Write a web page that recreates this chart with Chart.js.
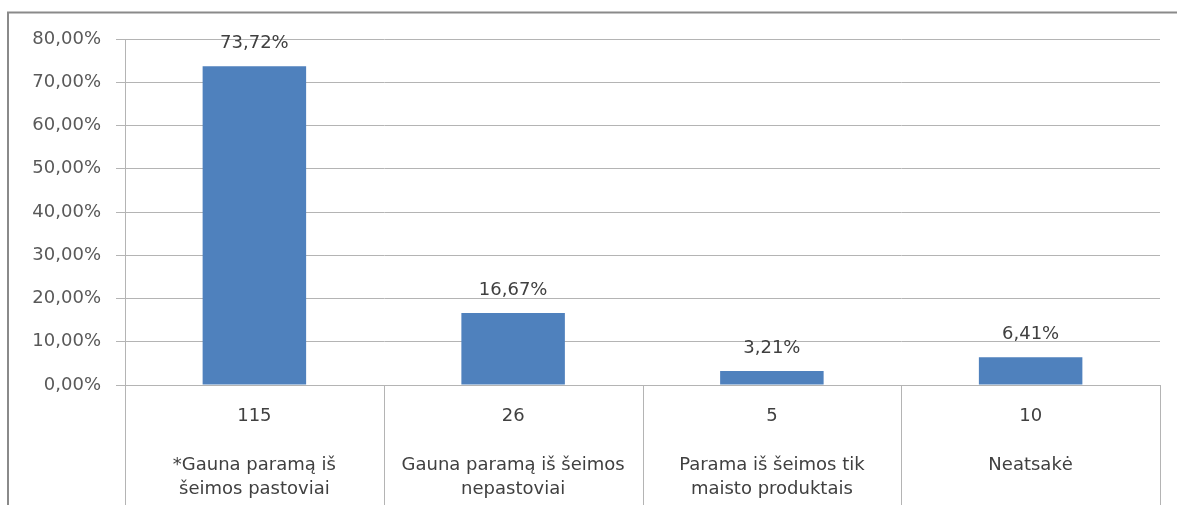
<!DOCTYPE html>
<html>
<head>
<meta charset="utf-8">
<script src="https://cdn.jsdelivr.net/npm/chart.js@4/dist/chart.umd.min.js"></script>
<style>
  html, body { margin: 0; padding: 0; background: #ffffff; }
  #wrap { width: 1177px; height: 505px; }
</style>
</head>
<body>
<div id="wrap"><canvas id="c" width="1177" height="505"></canvas></div>
<script>
// ---- data ----
const counts = ["115", "26", "5", "10"];
const categoryNames = [
  ["*Gauna paramą iš", "šeimos pastoviai"],
  ["Gauna paramą iš šeimos", "nepastoviai"],
  ["Parama iš šeimos tik", "maisto produktais"],
  ["Neatsakė", ""]
];
const percentValues = [73.72, 16.67, 3.21, 6.41];
const yTicks = [0, 10, 20, 30, 40, 50, 60, 70, 80];

const FONT = "'DejaVu Sans', sans-serif";
const fmt = v => v.toFixed(2).replace('.', ',') + '%';

const labels = counts.map((c, i) => [c, ""].concat(categoryNames[i]));

const decorPlugin = {
  id: 'decor',
  beforeDraw(chart) {
    const ctx = chart.ctx;
    ctx.save();
    ctx.fillStyle = '#ffffff';
    ctx.fillRect(0, 0, chart.width, chart.height);
    ctx.restore();
  },
  afterDraw(chart) {
    const ctx = chart.ctx;
    const xs = chart.scales.x;
    const area = chart.chartArea;
    const n = chart.data.labels.length;
    ctx.save();
    // category separators below the axis
    ctx.strokeStyle = '#b4b4b4';
    ctx.lineWidth = 1;
    for (let i = 0; i <= n; i++) {
      const x = Math.round(xs.left + i * (xs.right - xs.left) / n) + 0.5;
      ctx.beginPath();
      ctx.moveTo(x, area.bottom);
      ctx.lineTo(x, chart.height);
      ctx.stroke();
    }
    // outer frame (top and left)
    ctx.strokeStyle = '#8a8a8a';
    ctx.lineWidth = 2;
    ctx.beginPath();
    ctx.moveTo(chart.width, 12.5);
    ctx.lineTo(8, 12.5);
    ctx.lineTo(8, chart.height);
    ctx.stroke();
    ctx.restore();
  },
  afterDatasetsDraw(chart) {
    const ctx = chart.ctx;
    const meta = chart.getDatasetMeta(0);
    const ds = chart.data.datasets[0];
    ctx.save();
    ctx.font = '18px ' + FONT;
    ctx.fillStyle = '#404040';
    ctx.textAlign = 'center';
    ctx.textBaseline = 'middle';
    meta.data.forEach((bar, i) => {
      ctx.fillText(fmt(ds.data[i]), bar.x, bar.y - 23);
    });
    ctx.restore();
  }
};

new Chart(document.getElementById('c'), {
  type: 'bar',
  data: {
    labels: labels,
    datasets: [{
      data: percentValues,
      backgroundColor: '#4F81BD',
      borderWidth: 0,
      barPercentage: 0.4,
      categoryPercentage: 1.0
    }]
  },
  options: {
    responsive: false,
    animation: false,
    devicePixelRatio: 1,
    layout: { padding: { left: 0, right: 17, top: 39, bottom: 0 } },
    plugins: {
      legend: { display: false },
      tooltip: { enabled: false },
      title: { display: false }
    },
    scales: {
      x: {
        offset: true,
        grid: { display: false },
        border: { display: false },
        ticks: {
          font: { family: FONT, size: 18, lineHeight: 24.5 / 18 },
          color: '#404040',
          padding: 11,
          maxRotation: 0,
          autoSkip: false
        },
        afterFit(scale) { scale.height = 120; }
      },
      y: {
        min: 0,
        max: 80,
        afterBuildTicks(scale) { scale.ticks = yTicks.map(v => ({ value: v })); },
        grid: {
          color: '#b4b4b4',
          lineWidth: 1,
          drawTicks: true,
          tickLength: 9,
          tickColor: '#b4b4b4'
        },
        border: { display: true, color: '#b4b4b4', width: 1 },
        ticks: {
          font: { family: FONT, size: 18 },
          color: '#595959',
          padding: 15,
          callback: v => fmt(v)
        },
        afterFit(scale) { scale.width = 125; }
      }
    }
  },
  plugins: [decorPlugin]
});
</script>
</body>
</html>
